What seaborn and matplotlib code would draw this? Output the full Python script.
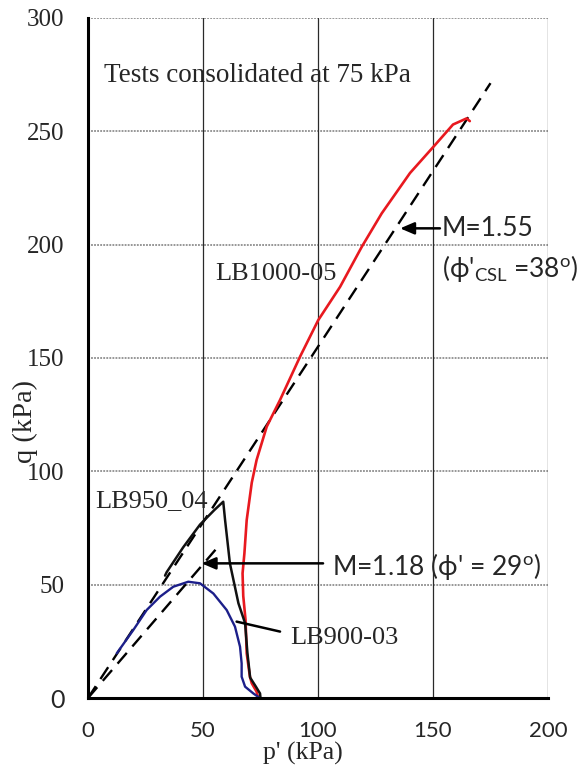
import matplotlib
matplotlib.use("Agg")
import matplotlib.pyplot as plt
import numpy as np
import pandas as pd
import seaborn as sns

# ---- stress paths (p', q) in kPa ----
lb1000_p = [74.0, 73.3, 71.2, 70.4, 69.0, 68.5, 67.5, 67.2, 68.0, 69.0, 70.0, 71.2, 73.3,
            77.7, 83.5, 92.2, 100.1, 109.6, 119.0, 127.7, 140.0, 150.9, 158.7, 164.6, 166.0]
lb1000_q = [0.0, 2.8, 6.5, 9.4, 19.7, 34.4, 45.0, 55.0, 63.8, 78.5, 86.0, 95.0, 105.0,
            119.7, 131.5, 150.6, 166.7, 181.4, 199.0, 213.8, 231.6, 244.0, 253.0, 255.7, 254.5]

lb950_p = [75.0, 74.8, 73.0, 70.5, 69.3, 68.3, 65.4, 61.7, 59.6, 58.8, 55.0, 48.7, 41.4, 34.2, 33.5]
lb950_q = [0.0, 2.0, 5.0, 9.0, 20.0, 33.0, 41.8, 59.4, 78.5, 86.6, 83.0, 76.5, 66.5, 55.5, 54.0]

lb900_p = [74.0, 71.9, 68.3, 66.8, 66.8, 66.1, 63.9, 60.3, 54.5, 48.7, 43.6, 37.1, 31.3, 25.5, 19.7, 12.5]
lb900_q = [0.5, 2.0, 5.0, 9.4, 15.3, 22.6, 31.5, 38.8, 46.1, 50.6, 51.3, 49.1, 44.7, 38.8, 30.0, 19.7]

# critical state lines q = M p'
csl_M = [1.55, 1.18]
csl_p_end = [175.0, 56.0]

x_ticks = [0, 50, 100, 150, 200]
y_ticks = [0, 50, 100, 150, 200, 250, 300]

SERIF = ["Liberation Serif", "DejaVu Serif"]
SANS = ["Lato", "DejaVu Sans"]

sns.set_theme(style="white")
plt.rcParams["font.family"] = SERIF
plt.rcParams["mathtext.fontset"] = "custom"
plt.rcParams["mathtext.rm"] = "Lato"
plt.rcParams["mathtext.it"] = "Lato"

fig = plt.figure(figsize=(5.8, 7.72), dpi=100)
ax = fig.add_axes([88 / 580, 74 / 772, 460 / 580, 680 / 772])

ax.set_xlim(0, 200)
ax.set_ylim(0, 300)

# grid
for yv in y_ticks[1:]:
    ax.axhline(yv, color="#7a7a7a", lw=1.1, ls=(0, (1.2, 0.8)), zorder=1)
for xv in x_ticks[1:]:
    ax.axvline(xv, color="#2a2a2a", lw=0.9, zorder=1)

# critical state lines
for M, pe in zip(csl_M, csl_p_end):
    pp = np.array([0.0, pe])
    ax.plot(pp, M * pp, color="black", lw=1.7, ls=(0, (6, 3.6)), zorder=3)

paths = pd.concat([
    pd.DataFrame({"p": lb1000_p, "q": lb1000_q, "test": "LB1000-05"}),
    pd.DataFrame({"p": lb950_p, "q": lb950_q, "test": "LB950_04"}),
    pd.DataFrame({"p": lb900_p, "q": lb900_q, "test": "LB900-03"}),
])
colors = {"LB1000-05": "#e8191f", "LB950_04": "#111111", "LB900-03": "#1c1f8a"}
widths = {"LB1000-05": 1.9, "LB950_04": 1.8, "LB900-03": 1.7}
for name, grp in paths.groupby("test", sort=False):
    sns.lineplot(data=grp, x="p", y="q", sort=False, estimator=None, color=colors[name],
                 lw=widths[name], ax=ax, zorder=4)

# spines and ticks
for s in ["top", "right"]:
    ax.spines[s].set_visible(False)
for s in ["left", "bottom"]:
    ax.spines[s].set_color("black")
    ax.spines[s].set_linewidth(2.2)
    ax.spines[s].set_zorder(5)

ax.set_xticks(x_ticks)
ax.set_yticks(y_ticks)
ax.tick_params(axis="both", direction="inout", length=11, width=1.8, color="black")
ax.tick_params(axis="y", pad=11.5, labelsize=18)
ax.tick_params(axis="x", pad=11, labelsize=16)
for lab in ax.get_xticklabels():
    lab.set_family(SANS)
ax.get_yticklabels()[0].set_family(SANS)

ax.set_xlabel("p' (kPa)", fontsize=18.5, family=SERIF)
ax.set_ylabel("q (kPa)", fontsize=20.5, family=SERIF)
ax.xaxis.set_label_coords(0.468, -0.064)
ax.yaxis.set_label_coords(-0.108, 0.406)

# annotations
ax.text(7.0, 271.9, "Tests consolidated at 75 kPa", fontsize=19.5, family=SERIF, va="baseline")
ax.text(55.2, 184.4, "LB1000-05", fontsize=19, family=SERIF, va="baseline")
ax.text(3.0, 84.4, "LB950_04", fontsize=19, family=SERIF, va="baseline")
ax.text(87.8, 23.8, "LB900-03", fontsize=19, family=SERIF, va="baseline")

ax.text(153.8, 203.8, "M=1.55", fontsize=19, family=SANS, va="baseline")
ax.text(153.8, 185.7, r"(ϕ'$_{\mathrm{CSL}}$ =38$^{\mathrm{o}}$)", fontsize=19, family=SANS, va="baseline")
ax.text(106.0, 54.3, r"M=1.18 (ϕ' = 29$^{\mathrm{o}}$)", fontsize=19, family=SANS, va="baseline")

arrow = dict(arrowstyle="-|>,head_length=0.7,head_width=0.3", color="black", lw=1.8, shrinkA=0, shrinkB=0)
ax.annotate("", xy=(135.7, 207.2), xytext=(153.0, 207.2), arrowprops=arrow, zorder=6)
ax.annotate("", xy=(49.4, 59.4), xytext=(102.2, 59.4), arrowprops=arrow, zorder=6)
ax.annotate("", xy=(64.6, 33.7), xytext=(83.5, 29.3),
            arrowprops=dict(arrowstyle="-", color="black", lw=1.8, shrinkA=0, shrinkB=0), zorder=6)

fig.savefig("out.png", dpi=100)
